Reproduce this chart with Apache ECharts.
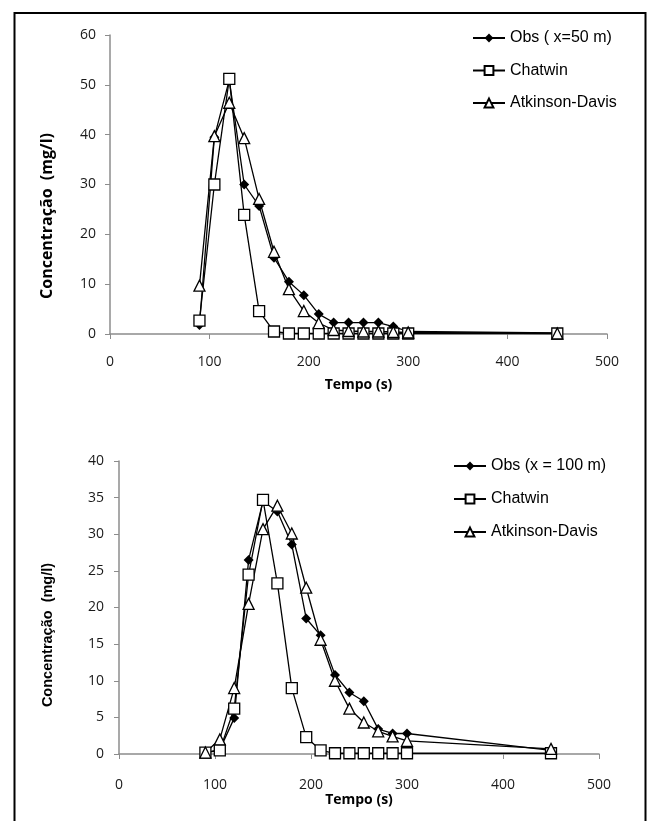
<!DOCTYPE html>
<html>
<head>
  <meta charset="utf-8" />
  <title>Concentração x Tempo</title>
  <script src="https://cdn.jsdelivr.net/npm/echarts@6/dist/echarts.min.js"></script>
  <style>
    html, body { margin: 0; padding: 0; background: #fff; }
    #main { width: 656px; height: 821px; }
  </style>
</head>
<body>
  <div id="main"></div>
  <script type="text/javascript">
    // tempo (s) - mesmos instantes nos dois gráficos
    var tempo = [90, 105, 120, 135, 150, 165, 180, 195, 210, 225, 240, 255, 270, 285, 300, 450]
    var xTicks = [0, 100, 200, 300, 400, 500]

    // x = 50 m
    var obs50 = [1.8, 39.5, 51, 30, 25.7, 15.3, 10.5, 7.8, 4.0, 2.3, 2.3, 2.3, 2.3, 1.5, 0.5, 0.2]
    var chatwin50 = [2.7, 30, 51.2, 23.9, 4.6, 0.5, 0.1, 0.1, 0.1, 0.1, 0.1, 0.1, 0.1, 0.1, 0.1, 0.1]
    var atkinson50 = [9.7, 39.7, 46.4, 39.3, 27.1, 16.5, 9.0, 4.6, 2.2, 0.8, 0.6, 0.5, 0.5, 0.4, 0.3, 0.1]

    // x = 100 m
    var obs100 = [0.2, 0.6, 4.9, 26.5, 34.5, 33.1, 28.6, 18.5, 16.2, 10.8, 8.4, 7.2, 3.4, 2.8, 2.8, 0.5]
    var chatwin100 = [0.2, 0.5, 6.2, 24.5, 34.7, 23.3, 9.0, 2.3, 0.5, 0.1, 0.1, 0.1, 0.1, 0.1, 0.1, 0.1]
    var atkinson100 = [0.2, 2.0, 9.0, 20.5, 30.7, 33.9, 30.1, 22.7, 15.6, 10.0, 6.2, 4.3, 3.1, 2.4, 1.8, 0.7]

    var nomes50 = ["Obs ( x=50 m)", "Chatwin", "Atkinson-Davis"]
    var nomes100 = ["Obs (x = 100 m)", "Chatwin", "Atkinson-Davis"]

    function pares(xs, ys) {
      return xs.map(function (x, i) { return [x, ys[i]] })
    }

    var tickFont = { fontFamily: "Open Sans", fontSize: 14, color: "#1a1a1a" }
    var axisGray = "#8c8c8c"

    function serie(nome, tipo, dados, grid) {
      var s = {
        name: nome,
        type: "line",
        xAxisIndex: grid,
        yAxisIndex: grid,
        data: dados,
        symbol: tipo,
        symbolSize: tipo == "diamond" ? 10 : 11,
        lineStyle: { color: "#000", width: 1.3 },
        itemStyle: { color: "#fff", borderColor: "#000", borderWidth: 1.3 }
      }
      if (tipo == "diamond") {
        s.itemStyle = { color: "#000", borderColor: "#000", borderWidth: 0 }
      }
      return s
    }

    function eixoX(grid, gap, margin) {
      return {
        type: "value",
        gridIndex: grid,
        min: xTicks[0],
        max: xTicks[xTicks.length - 1],
        interval: 100,
        name: "Tempo (s)",
        nameLocation: "middle",
        nameGap: gap,
        nameTextStyle: { fontFamily: "Open Sans", fontWeight: "bold", fontSize: 14, color: "#000" },
        axisLine: { show: true, lineStyle: { color: axisGray, width: 1.5 } },
        axisTick: { show: true, length: 5, lineStyle: { color: axisGray } },
        axisLabel: Object.assign({ margin: margin }, tickFont),
        splitLine: { show: false }
      }
    }

    function eixoY(grid, max, step, margin) {
      return {
        type: "value",
        gridIndex: grid,
        min: 0,
        max: max,
        interval: step,
        axisLine: { show: true, lineStyle: { color: axisGray, width: 1.5 } },
        axisTick: { show: true, length: 5, lineStyle: { color: axisGray } },
        axisLabel: Object.assign({ margin: margin }, tickFont),
        splitLine: { show: false }
      }
    }

    var legendaTexto = { fontFamily: "Liberation Sans", fontSize: 16, color: "#000", lineHeight: 16 }

    var myChart = echarts.init(document.getElementById("main"), null, { renderer: "canvas" })

    var option = {
      animation: false,
      backgroundColor: "#fff",
      grid: [
        { left: 110, top: 35, width: 497, height: 299 },
        { left: 119, top: 461, width: 480, height: 293 }
      ],
      xAxis: [eixoX(0, 44, 21), eixoX(1, 38, 24)],
      yAxis: [eixoY(0, 60, 10, 14), eixoY(1, 40, 5, 15)],
      legend: [
        {
          orient: "vertical",
          left: 467,
          top: 25,
          itemWidth: 32,
          itemHeight: 11,
          itemGap: 16.5,
          data: nomes50,
          textStyle: legendaTexto,
          selectedMode: false
        },
        {
          orient: "vertical",
          left: 448,
          top: 453,
          itemWidth: 32,
          itemHeight: 11,
          itemGap: 17,
          data: nomes100,
          textStyle: legendaTexto,
          selectedMode: false
        }
      ],
      graphic: [
        {
          type: "rect",
          shape: { x: 14.5, y: 13, width: 631, height: 840 },
          style: { fill: "none", stroke: "#000", lineWidth: 2 },
          silent: true
        },
        {
          type: "text",
          x: 47,
          y: 216,
          rotation: Math.PI / 2,
          style: {
            text: "Concentração  (mg/l)",
            fontFamily: "Open Sans",
            fontWeight: "bold",
            fontSize: 16,
            fill: "#000",
            textAlign: "center",
            textVerticalAlign: "middle"
          }
        },
        {
          type: "text",
          x: 48,
          y: 635,
          rotation: Math.PI / 2,
          style: {
            text: "Concentração  (mg/l)",
            fontFamily: "Liberation Sans",
            fontWeight: "bold",
            fontSize: 14.5,
            fill: "#000",
            textAlign: "center",
            textVerticalAlign: "middle"
          }
        }
      ],
      series: [
        serie(nomes50[0], "diamond", pares(tempo, obs50), 0),
        serie(nomes50[1], "rect", pares(tempo, chatwin50), 0),
        serie(nomes50[2], "triangle", pares(tempo, atkinson50), 0),
        serie(nomes100[0], "diamond", pares(tempo, obs100), 1),
        serie(nomes100[1], "rect", pares(tempo, chatwin100), 1),
        serie(nomes100[2], "triangle", pares(tempo, atkinson100), 1)
      ]
    }
    myChart.setOption(option, true)
  </script>
</body>
</html>
